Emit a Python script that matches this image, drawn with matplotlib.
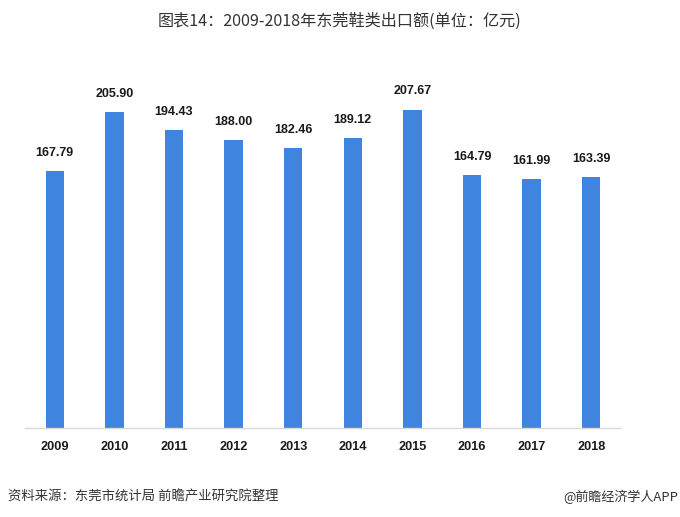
import matplotlib
matplotlib.use("Agg")
import matplotlib.pyplot as plt

plt.rcParams['font.family'] = ['Noto Sans CJK SC', 'DejaVu Sans']

years = ["2009", "2010", "2011", "2012", "2013", "2014", "2015", "2016", "2017", "2018"]
values = [167.79, 205.90, 194.43, 188.00, 182.46, 189.12, 207.67, 164.79, 161.99, 163.39]
title = "图表14：2009-2018年东莞鞋类出口额(单位：亿元)"
source = "资料来源：东莞市统计局 前瞻产业研究院整理"
brand = "@前瞻经济学人APP"

W, H = 680, 517
fig = plt.figure(figsize=(W / 100, H / 100), dpi=100)
ax_left, ax_right = 25, 621
ax_bottom, ax_top = 427.5, 60
ax = fig.add_axes([ax_left / W, (H - ax_bottom) / H, (ax_right - ax_left) / W, (ax_bottom - ax_top) / H])

x = list(range(len(years)))
bars = ax.bar(x, values, width=0.31, color="#3f85e0", zorder=2)
ax.set_xlim(-0.5, len(years) - 0.5)
ax.set_ylim(0, 240)

for xi, v in zip(x, values):
    ax.annotate(f"{v:.2f}", (xi, v), xytext=(0, 13), textcoords="offset points",
                ha="center", va="center", fontsize=9, fontweight="bold",
                family=["Liberation Sans", "DejaVu Sans"], color="#1a1a1a")

ax.set_xticks(x)
ax.set_xticklabels(years, fontsize=9.2, fontweight="bold", family=["Liberation Sans", "DejaVu Sans"], color="#1a1a1a")
ax.tick_params(axis="x", length=0, pad=10)
ax.set_yticks([])
for s in ["left", "right", "top"]:
    ax.spines[s].set_visible(False)
ax.spines["bottom"].set_color("#d9d9d9")
ax.spines["bottom"].set_linewidth(1.0)

fig.text(340 / W, 1 - 21 / H, title, ha="center", va="center", fontsize=11.6, color="#333333")
fig.text(8 / W, 1 - 497 / H, source, ha="left", va="center", fontsize=9.6, color="#333333", style="italic")
fig.text(678 / W, 1 - 497 / H, brand, ha="right", va="center", fontsize=9.4, color="#333333")

fig.savefig("out.png", dpi=100)
